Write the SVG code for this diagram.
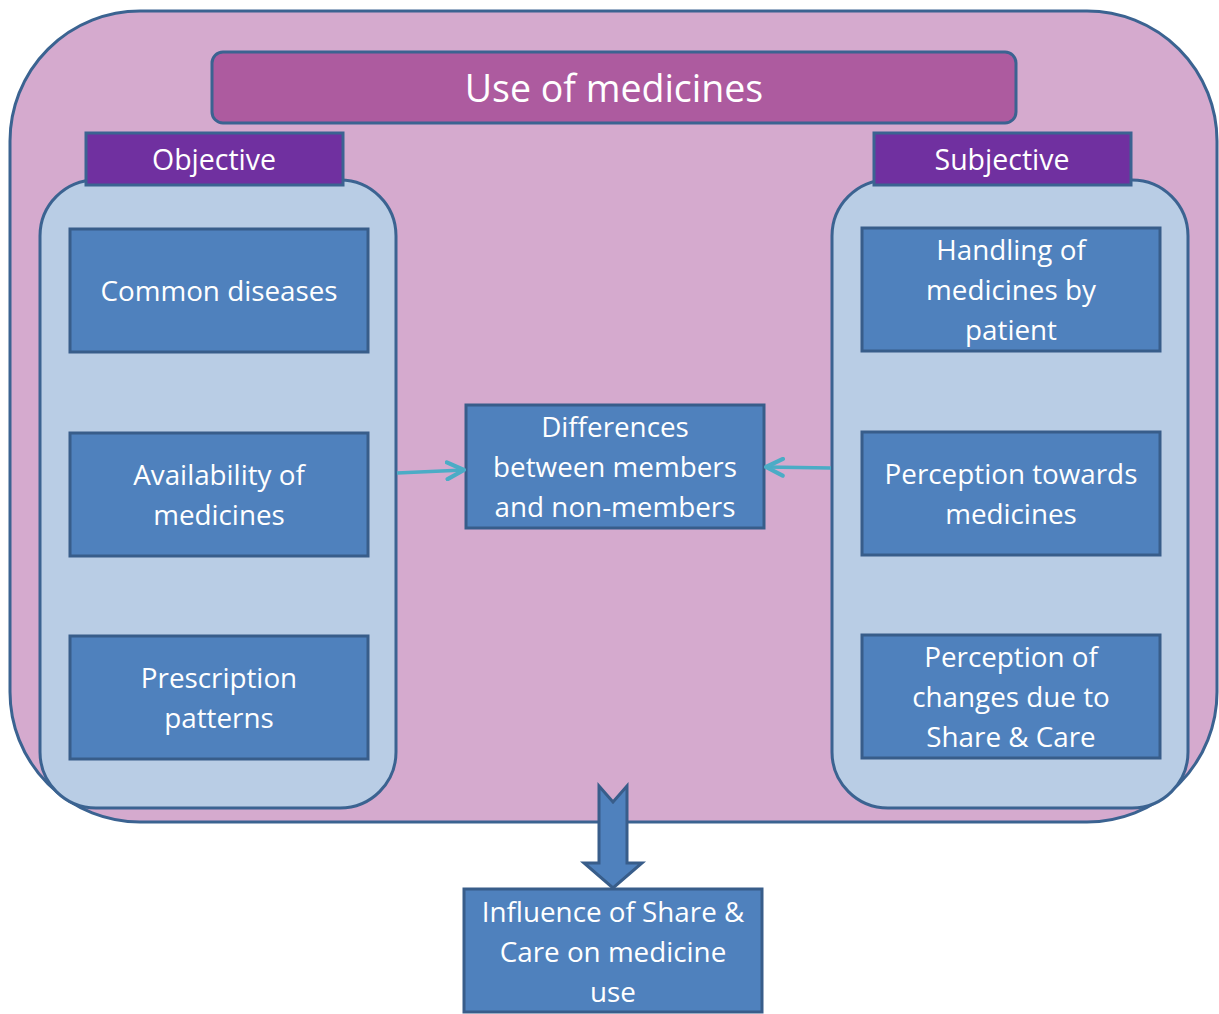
<svg xmlns="http://www.w3.org/2000/svg" width="1219" height="1014" viewBox="0 0 1219 1014">
<style>
.stk{stroke:#3B6391;stroke-width:3}
.box{fill:#4F81BD;stroke:#385D8A;stroke-width:3}
.lbl{fill:#7030A0;stroke:#3B6391;stroke-width:3}
.panel{fill:#B9CDE5;stroke:#3B6391;stroke-width:3}
text{font-family:"Open Sans","Noto Sans",sans-serif;fill:#FFFFFF;text-anchor:middle}
.t{font-size:27.8px}
.h{font-size:28.5px}
.ttl{font-size:37.5px}
.con{stroke:#4BACC6;stroke-width:3.5;fill:none}
</style>
<defs>
<marker id="ah" viewBox="0 0 10 10" refX="9" refY="5" markerWidth="6" markerHeight="6" orient="auto" markerUnits="strokeWidth">
<path d="M1,1 L9,5 L1,9" fill="none" stroke="#4BACC6" stroke-width="2" stroke-linecap="round" stroke-linejoin="round"/>
</marker>
</defs>
<rect width="1219" height="1014" fill="#FFFFFF"/>
<g id="outer">
<rect x="10" y="11" width="1207" height="811" rx="130" ry="130" fill="#D5AACE" class="stk"/>
</g>
<g id="title">
<rect x="212" y="52" width="804" height="71" rx="11" fill="#AD5B9F" class="stk"/>
<text class="ttl" x="614" y="102">Use of medicines</text>
</g>
<g id="left-panel">
<rect class="panel" x="40" y="180" width="356" height="628" rx="56"/>
</g>
<g id="right-panel">
<rect class="panel" x="832" y="180" width="356" height="628" rx="56"/>
</g>
<g id="objective">
<rect class="lbl" x="86" y="133" width="257" height="52"/>
<text class="h" x="214" y="170">Objective</text>
</g>
<g id="subjective">
<rect class="lbl" x="874" y="133" width="257" height="52"/>
<text class="h" x="1002" y="170">Subjective</text>
</g>
<g id="common-diseases">
<rect class="box" x="70" y="229" width="298" height="123"/>
<text class="t" x="219" y="301">Common diseases</text>
</g>
<g id="availability">
<rect class="box" x="70" y="433" width="298" height="123"/>
<text class="t" x="219" y="485">Availability of</text>
<text class="t" x="219" y="525">medicines</text>
</g>
<g id="prescription">
<rect class="box" x="70" y="636" width="298" height="123"/>
<text class="t" x="219" y="688">Prescription</text>
<text class="t" x="219" y="728">patterns</text>
</g>
<g id="handling">
<rect class="box" x="862" y="228" width="298" height="123"/>
<text class="t" x="1011" y="260">Handling of</text>
<text class="t" x="1011" y="300">medicines by</text>
<text class="t" x="1011" y="340">patient</text>
</g>
<g id="perception-medicines">
<rect class="box" x="862" y="432" width="298" height="123"/>
<text class="t" x="1011" y="484">Perception towards</text>
<text class="t" x="1011" y="524">medicines</text>
</g>
<g id="perception-changes">
<rect class="box" x="862" y="635" width="298" height="123"/>
<text class="t" x="1011" y="667">Perception of</text>
<text class="t" x="1011" y="707">changes due to</text>
<text class="t" x="1011" y="747">Share &amp; Care</text>
</g>
<g id="differences">
<rect class="box" x="466" y="405" width="298" height="123"/>
<text class="t" x="615" y="437">Differences</text>
<text class="t" x="615" y="477">between members</text>
<text class="t" x="615" y="517">and non-members</text>
</g>
<g id="influence">
<rect class="box" x="464" y="889" width="298" height="123"/>
<text class="t" x="613" y="922">Influence of Share &amp;</text>
<text class="t" x="613" y="962">Care on medicine</text>
<text class="t" x="613" y="1002">use</text>
</g>
<g id="connectors">
<path class="con" d="M397,473 L464,470" marker-end="url(#ah)"/>
<path class="con" d="M831,468 L766,467" marker-end="url(#ah)"/>
<path d="M599,786 L613,802 L627,786 L627,863 L642,863 L613,888 L584,863 L599,863 Z" fill="#4F81BD" stroke="#385D8A" stroke-width="3" stroke-linejoin="miter"/>
</g>
</svg>
